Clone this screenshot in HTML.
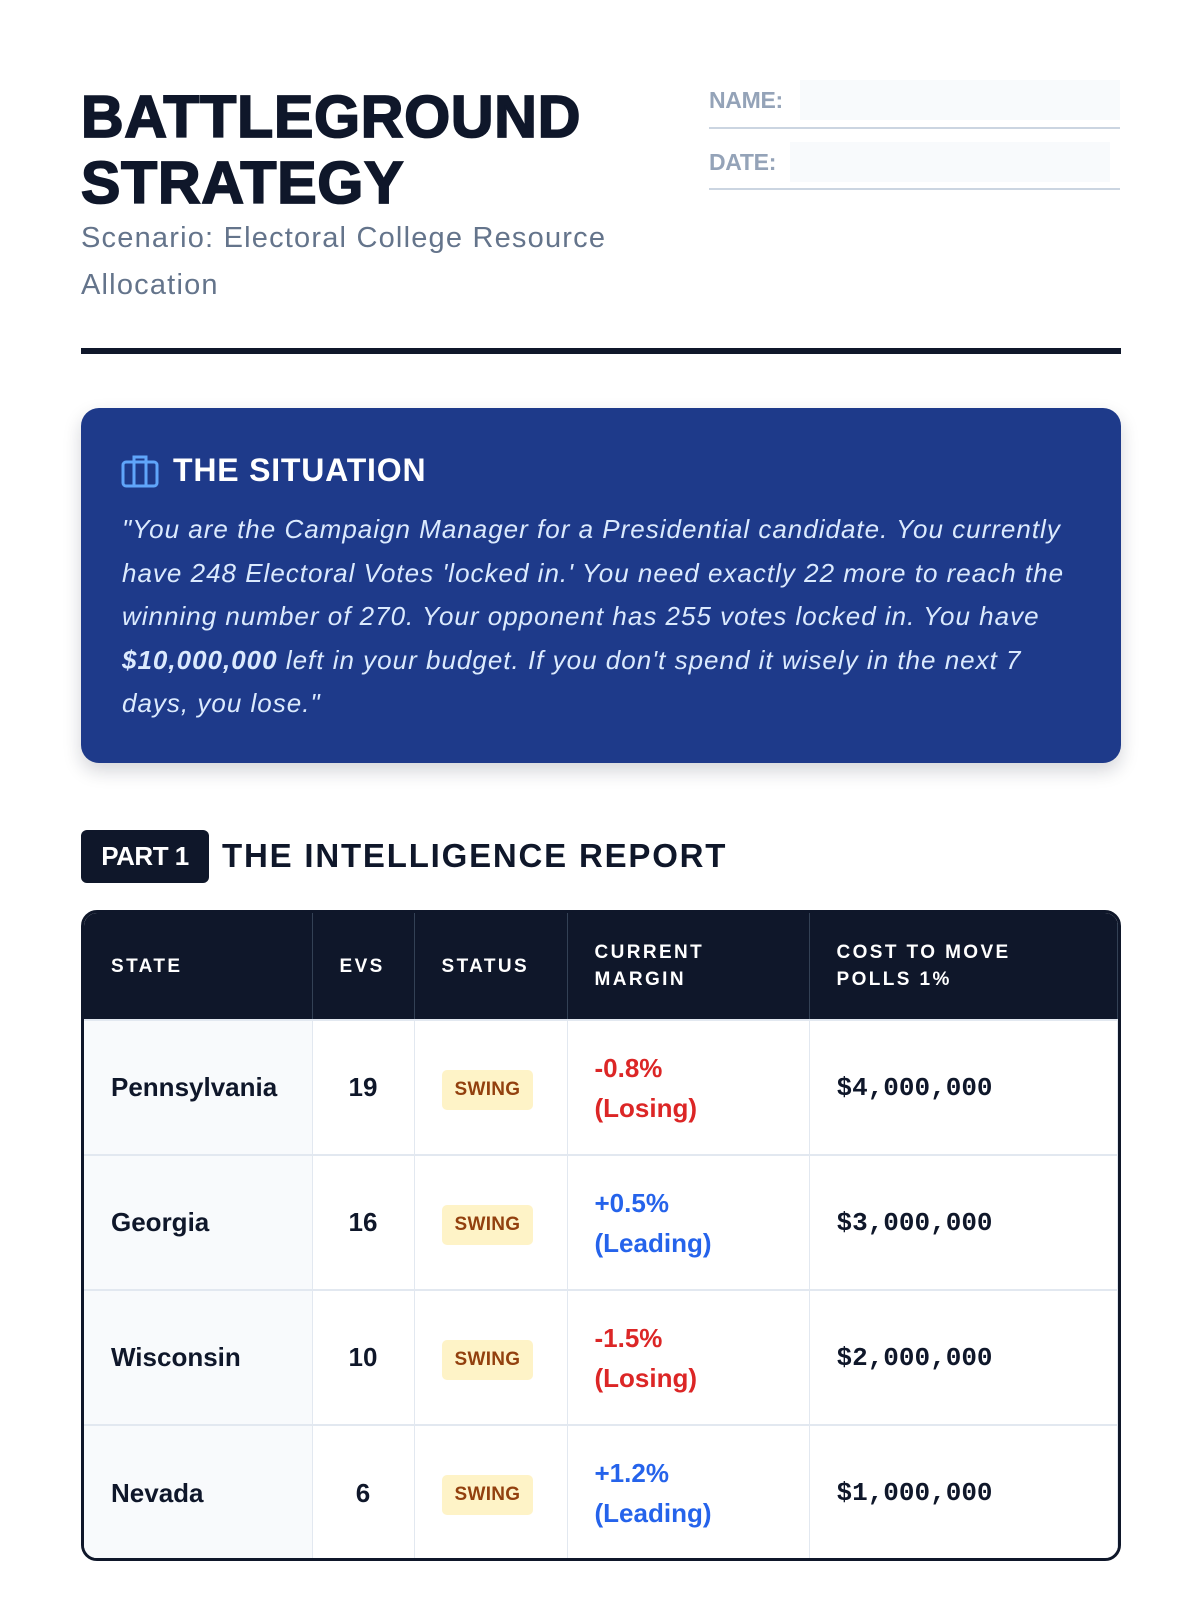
<!DOCTYPE html>
<html><head><meta charset="utf-8"><style>
*{box-sizing:border-box;margin:0;padding:0}
body{width:1200px;height:1600px;background:#fff;font-family:"Liberation Sans",sans-serif;position:relative;overflow:hidden;color:#0f172a}
.abs{position:absolute}
h1{position:absolute;left:81px;top:84px;font-size:59px;line-height:66px;font-weight:900;letter-spacing:0.8px;color:#0f172a;-webkit-text-stroke:1.8px #0f172a}
.sub{left:81px;top:215px;font-size:29px;line-height:47px;color:#64748b;letter-spacing:1.2px}
.lbl{font-size:23px;font-weight:bold;color:#94a3b8;letter-spacing:-0.3px}
.rule{left:81px;top:348px;width:1040px;height:6px;background:#0f172a}
.box{left:81px;top:408px;width:1040px;height:355px;background:#1e3a8a;border-radius:18px;box-shadow:0 8px 18px rgba(15,23,42,.18)}
.box .t{position:absolute;left:92px;top:44px;font-size:32px;font-weight:bold;color:#fff;letter-spacing:0.8px}
.box .p{position:absolute;left:41px;top:100px;font-size:26px;line-height:43.6px;font-style:italic;color:#dbeafe;letter-spacing:1.0px}
.badge{left:81px;top:830px;width:128px;height:53px;background:#0f172a;border-radius:6px;color:#fff;font-size:26px;font-weight:bold;line-height:53px;text-align:center;letter-spacing:-0.5px}
.ptitle{left:222px;top:837px;font-size:33px;font-weight:bold;letter-spacing:1.8px;color:#0f172a}
.tbl{left:81px;top:910px;width:1040px;height:651px;border:3px solid #0f172a;border-radius:16px;overflow:hidden;background:#fff}
table{border-collapse:collapse;width:100%}
th{background:#0f172a;color:#fff;font-size:19px;letter-spacing:2.4px;text-align:left;height:107px;padding:0 0 0 27px;line-height:27px;border-right:1px solid #334155}
td{height:135px;border-top:2px solid #e2e8f0;border-right:1px solid #e2e8f0;padding-left:27px;font-size:26px;font-weight:bold}
td.s{background:#f8fafc}
td.e{text-align:center;padding:0}
.sw{display:inline-block;background:#fef3c7;color:#92400e;font-size:19px;border-radius:5px;padding:9px 13px;letter-spacing:0.3px;margin-top:4px}
.red{color:#dc2626;line-height:40px}
.blue{color:#2563eb;line-height:40px}
.mono{font-family:"Liberation Mono",monospace;font-size:26px}
</style></head><body>
<h1>BATTLEGROUND<br>STRATEGY</h1>
<div class="abs sub">Scenario: Electoral College Resource<br>Allocation</div>
<div class="abs lbl" style="left:709px;top:87px">NAME:</div>
<div class="abs" style="left:800px;top:80px;width:320px;height:40px;background:#f8fafc"></div>
<div class="abs" style="left:709px;top:127px;width:411px;height:2px;background:#cbd5e1"></div>
<div class="abs lbl" style="left:709px;top:149px">DATE:</div>
<div class="abs" style="left:790px;top:142px;width:320px;height:40px;background:#f8fafc"></div>
<div class="abs" style="left:709px;top:188px;width:411px;height:2px;background:#cbd5e1"></div>
<div class="abs rule"></div>
<div class="abs box">
<svg style="position:absolute;left:40px;top:46px" width="38" height="34" viewBox="0 0 38 34"><g fill="none" stroke="#60a5fa" stroke-width="3"><rect x="2" y="8" width="34" height="24" rx="3"/><path d="M13 8V3h12v5M13 8v24M25 8v24"/></g></svg>
<div class="t">THE SITUATION</div>
<div class="p">"You are the Campaign Manager for a Presidential candidate. You currently<br>have 248 Electoral Votes 'locked in.' You need exactly 22 more to reach the<br>winning number of 270. Your opponent has 255 votes locked in. You have<br><b>$10,000,000</b> left in your budget. If you don't spend it wisely in the next 7<br>days, you lose."</div>
</div>
<div class="abs badge">PART 1</div>
<div class="abs ptitle">THE INTELLIGENCE REPORT</div>
<div class="abs tbl"><table>
<colgroup><col style="width:228px"><col style="width:102px"><col style="width:153px"><col style="width:242px"><col></colgroup>
<tr><th>STATE</th><th>EVS</th><th>STATUS</th><th>CURRENT<br>MARGIN</th><th>COST TO MOVE<br>POLLS 1%</th></tr>
<tr><td class="s">Pennsylvania</td><td class="e">19</td><td><span class="sw">SWING</span></td><td class="red">-0.8%<br>(Losing)</td><td class="mono">$4,000,000</td></tr>
<tr><td class="s">Georgia</td><td class="e">16</td><td><span class="sw">SWING</span></td><td class="blue">+0.5%<br>(Leading)</td><td class="mono">$3,000,000</td></tr>
<tr><td class="s">Wisconsin</td><td class="e">10</td><td><span class="sw">SWING</span></td><td class="red">-1.5%<br>(Losing)</td><td class="mono">$2,000,000</td></tr>
<tr><td class="s">Nevada</td><td class="e">6</td><td><span class="sw">SWING</span></td><td class="blue">+1.2%<br>(Leading)</td><td class="mono">$1,000,000</td></tr>
</table></div>
</body></html>
